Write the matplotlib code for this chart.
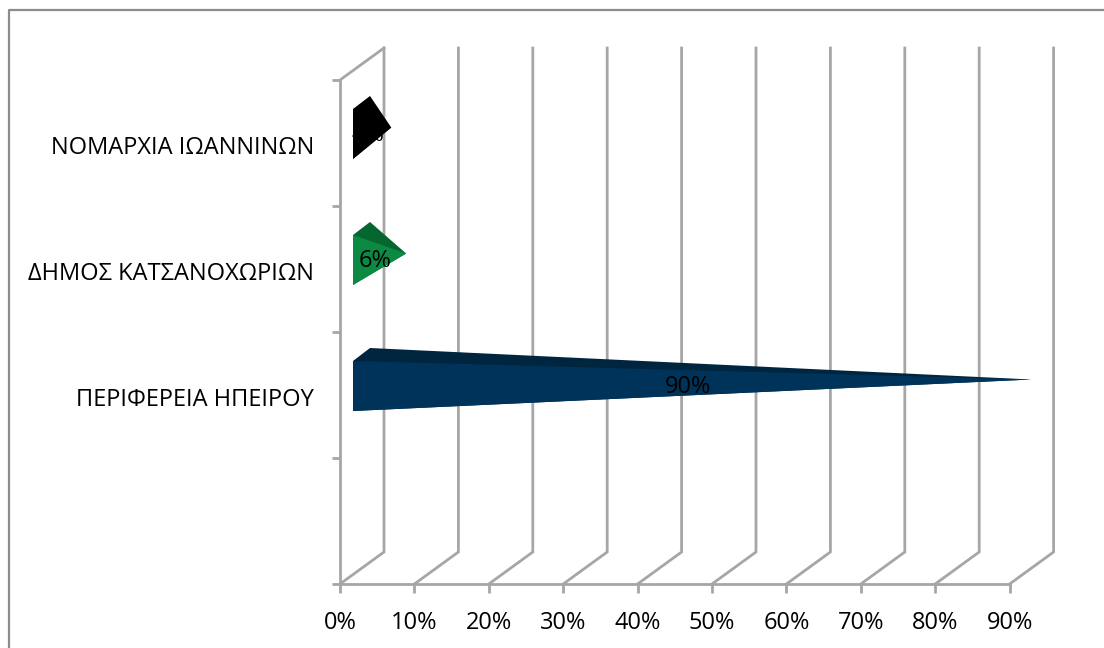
import matplotlib
matplotlib.use("Agg")
import matplotlib.pyplot as plt
from matplotlib.patches import Polygon
from matplotlib.lines import Line2D
from matplotlib.transforms import ScaledTranslation

categories = ["ΠΕΡΙΦΕΡΕΙΑ ΗΠΕΙΡΟΥ", "ΔΗΜΟΣ ΚΑΤΣΑΝΟΧΩΡΙΩΝ", "ΝΟΜΑΡΧΙΑ ΙΩΑΝΝΙΝΩΝ"]
positions = [1.5, 2.5, 3.5]
values = [90, 6, 4]
front_colors = ["#003359", "#0B8A43", "#000000"]
top_colors = ["#00253F", "#06662F", "#000000"]
x_ticks = [0, 10, 20, 30, 40, 50, 60, 70, 80, 90]
x_labels = ["0%", "10%", "20%", "30%", "40%", "50%", "60%", "70%", "80%", "90%"]

W, H = 1104, 648
plt.rcParams["font.family"] = ["Open Sans", "DejaVu Sans"]
fig = plt.figure(figsize=(W / 100, H / 100), dpi=100, facecolor="white")

L, R, T, B = 340, 1084, 80, 584
ax = fig.add_axes([L / W, 1 - B / H, (R - L) / W, (B - T) / H])
ax.set_xlim(0, 100)
ax.set_ylim(0, 4)
ax.patch.set_visible(False)

px_x = 100 / (R - L)
px_y = 4 / (B - T)
DX, DY = 44 * px_x, 32 * px_y
BAR_X0 = 13 * px_x
BAR_DX, BAR_DY = 17 * px_x, 13 * px_y
BAR_H = 50 * px_y
BAR_UP = 9 * px_y
LABEL_UP = 8 * px_y
GRID = "#A6A6A6"
LW = 2.0
FS = 17

# chart-area border: only the top and left edges fall inside the picture
BORDER = "#8C8C8C"
fig.add_artist(Line2D([8.5 / W, 8.5 / W, 1], [0, 1 - 10 / H, 1 - 10 / H],
                      transform=fig.transFigure, color=BORDER, lw=1.6))

for t in x_ticks:
    ax.plot([t, t + DX, t + DX], [0, DY, 4 + DY], color=GRID, lw=LW, clip_on=False,
            solid_joinstyle="miter", zorder=1)
ax.plot([0, DX], [4, 4 + DY], color=GRID, lw=LW, clip_on=False, zorder=1)

for pos, v, fc, tc in zip(positions, values, front_colors, top_colors):
    y0 = pos + BAR_UP - BAR_H / 2
    x0 = BAR_X0
    apex = (x0 + BAR_DX / 2 + v, y0 + BAR_H / 2 + BAR_DY / 2)
    fl, ft = (x0, y0), (x0, y0 + BAR_H)
    bt = (x0 + BAR_DX, y0 + BAR_H + BAR_DY)
    lx = x0 + v / 2
    # the black pyramid covers its own label, so that label sits under the bars
    ax.text(lx, pos + LABEL_UP, f"{v}%", ha="center", va="center",
            fontsize=FS, color="black", zorder=4 if v >= 5 else 2)
    # full silhouette first, then the front face: no seam between the faces
    ax.add_patch(Polygon([fl, ft, bt, apex], closed=True, facecolor=tc, edgecolor="none",
                         clip_on=False, zorder=3))
    ax.add_patch(Polygon([fl, ft, apex], closed=True, facecolor=fc, edgecolor="none",
                         clip_on=False, zorder=3))

for s in ("top", "right"):
    ax.spines[s].set_visible(False)
for s in ("left", "bottom"):
    ax.spines[s].set_color(GRID)
    ax.spines[s].set_linewidth(LW)
ax.spines["bottom"].set_bounds(0, 90)
ax.set_xticks(x_ticks)
ax.set_xticklabels(x_labels, fontsize=FS)
ax.tick_params(axis="x", length=6.5, width=LW, color=GRID, pad=13, labelcolor="black")
ax.set_yticks([0, 1, 2, 3, 4])
ax.set_yticklabels([])
ax.tick_params(axis="y", which="major", length=6, width=LW, color=GRID)
ax.set_yticks(positions, minor=True)
ax.set_yticklabels(categories, minor=True, fontsize=FS)
ax.tick_params(axis="y", which="minor", length=0, pad=18.5, labelcolor="black")
shift = ScaledTranslation(0, -2 / 100, fig.dpi_scale_trans)
for lab in ax.get_yticklabels(minor=True):
    lab.set_transform(lab.get_transform() + shift)

fig.savefig("out.png", dpi=100, facecolor="white")
